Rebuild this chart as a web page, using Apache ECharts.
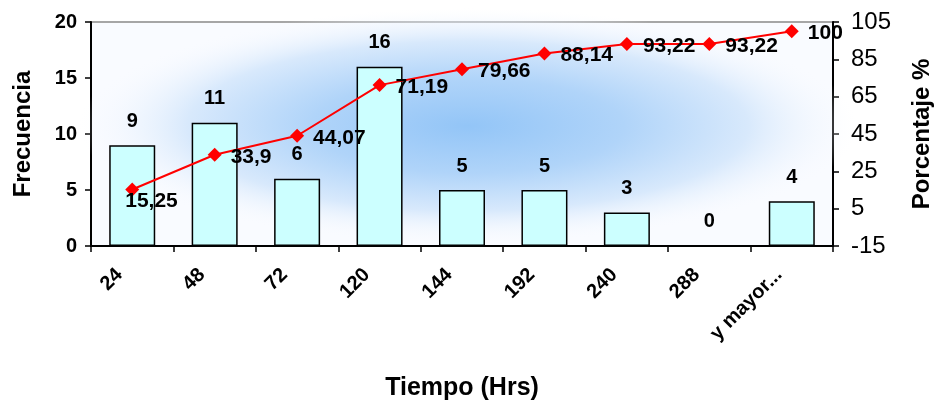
<!DOCTYPE html>
<html>
<head>
<meta charset="utf-8">
<script src="https://cdn.jsdelivr.net/npm/echarts@6/dist/echarts.min.js"></script>
<style>
  html, body { margin: 0; padding: 0; background: #ffffff; }
  #chart { width: 934px; height: 405px; }
</style>
</head>
<body>
<div id="chart"></div>
<script>
const categories = ['24', '48', '72', '120', '144', '192', '240', '288', 'y mayor...'];
const frecuencia = [9, 11, 6, 16, 5, 5, 3, 0, 4];
const porcentaje = [15.25, 33.9, 44.07, 71.19, 79.66, 88.14, 93.22, 93.22, 100];
const leftTicks = { min: 0, max: 20, interval: 5 };
const rightTicks = { min: -15, max: 105, interval: 20 };

const FONT = 'Liberation Sans, Arial, sans-serif';
const fmtComma = v => String(v).replace('.', ',');

const chart = echarts.init(document.getElementById('chart'), null, { renderer: 'canvas' });

const lineData = porcentaje.map((v, i) => {
  if (i === 0) {
    return { value: v, label: { position: 'right', offset: [-23, 12] } };
  }
  return v;
});

chart.setOption({
  animation: false,
  backgroundColor: '#ffffff',
  textStyle: { fontFamily: FONT },
  grid: {
    left: 91, right: 101, top: 22, bottom: 159,
    containLabel: false,
    outerBoundsMode: 'none',
    show: true,
    backgroundColor: '#f9fbff',
    borderColor: '#a6a6a6',
    borderWidth: 2
  },
  graphic: [{
    type: 'circle',
    x: 468, y: 126,
    scaleX: 3.3,
    scaleY: 1,
    shape: { cx: 0, cy: 0, r: 118 },
    z: 1,
    silent: true,
    style: {
      fill: {
        type: 'radial', x: 0.5, y: 0.5, r: 0.5,
        colorStops: [
          { offset: 0, color: '#93c5f7' },
          { offset: 0.4, color: '#b0d4f9' },
          { offset: 0.72, color: '#d8e9fc' },
          { offset: 1, color: 'rgba(249,251,255,0)' }
        ]
      }
    }
  }],
  xAxis: {
    type: 'category',
    data: categories,
    boundaryGap: true,
    name: 'Tiempo (Hrs)',
    nameLocation: 'middle',
    nameGap: 130,
    nameTextStyle: { fontSize: 25, fontWeight: 'bold', color: '#000', fontFamily: FONT },
    axisLine: { lineStyle: { color: '#000', width: 2 } },
    axisTick: { show: true, length: 6, lineStyle: { color: '#000', width: 1.5 } },
    axisLabel: {
      rotate: 45,
      interval: 0,
      margin: 13,
      padding: [0, 18, 0, 0],
      fontSize: 20,
      fontWeight: 'bold',
      color: '#000',
      fontFamily: FONT
    },
    splitLine: { show: false }
  },
  yAxis: [{
    type: 'value',
    position: 'left',
    min: leftTicks.min, max: leftTicks.max, interval: leftTicks.interval,
    name: 'Frecuencia',
    nameLocation: 'middle',
    nameGap: 56,
    nameRotate: 90,
    nameTextStyle: { fontSize: 24, fontWeight: 'bold', color: '#000', fontFamily: FONT },
    axisLine: { show: true, lineStyle: { color: '#000', width: 2 } },
    axisTick: { show: true, length: 6, lineStyle: { color: '#000', width: 1.5 } },
    axisLabel: { fontSize: 20, fontWeight: 'bold', color: '#000', margin: 14, fontFamily: FONT },
    splitLine: { show: false }
  }, {
    type: 'value',
    position: 'right',
    min: rightTicks.min, max: rightTicks.max, interval: rightTicks.interval,
    name: 'Porcentaje %',
    nameLocation: 'middle',
    nameGap: 77,
    nameRotate: 90,
    nameTextStyle: { fontSize: 24, fontWeight: 'bold', color: '#000', fontFamily: FONT },
    axisLine: { show: true, lineStyle: { color: '#000', width: 2 } },
    axisTick: { show: true, length: 6, lineStyle: { color: '#000', width: 1.5 } },
    axisLabel: { fontSize: 24, color: '#000', margin: 18, fontFamily: FONT },
    splitLine: { show: false }
  }],
  series: [{
    type: 'bar',
    name: 'Frecuencia',
    yAxisIndex: 0,
    data: frecuencia,
    barWidth: 46,
    z: 2,
    itemStyle: { color: '#ccffff', borderColor: '#000', borderWidth: 1.5 },
    label: {
      show: true,
      position: 'top',
      distance: 14,
      fontSize: 20,
      fontWeight: 'bold',
      color: '#000',
      fontFamily: FONT
    }
  }, {
    type: 'line',
    name: 'Porcentaje',
    yAxisIndex: 1,
    data: lineData,
    z: 3,
    symbol: 'diamond',
    symbolSize: 14,
    lineStyle: { color: '#ff0000', width: 2 },
    itemStyle: { color: '#ff0000' },
    label: {
      show: true,
      position: 'right',
      distance: 9,
      offset: [0, 2],
      fontSize: 21,
      fontWeight: 'bold',
      color: '#000',
      fontFamily: FONT,
      formatter: p => fmtComma(p.value)
    }
  }]
});
</script>
</body>
</html>
